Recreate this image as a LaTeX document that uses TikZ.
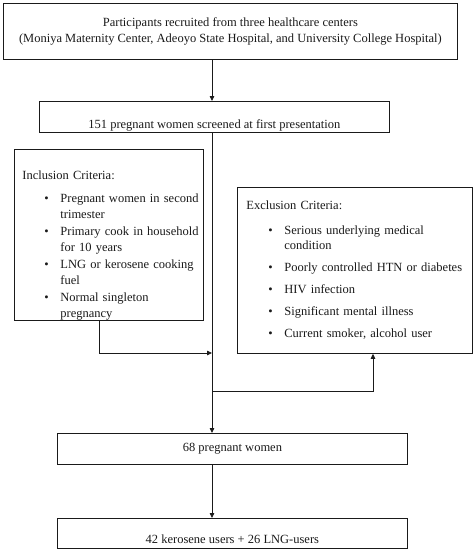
\documentclass[tikz,border=0pt]{standalone}
\usepackage{fontspec}
\setmainfont{Liberation Serif}
\usetikzlibrary{arrows.meta, positioning}
\definecolor{inkgray}{HTML}{1A1A1A}

% one bullet line, and the wrapped rest of it
\newcommand{\critem}[1]{\hspace*{22pt}\makebox[16pt][l]{\textbullet}\mbox{#1}}
\newcommand{\critnext}[1]{\hspace*{38pt}\mbox{#1}}

\begin{document}
\begin{tikzpicture}[
  x=1pt, y=-1pt,
  box/.style={draw=inkgray, line width=0.8pt, anchor=north west, inner sep=0pt, align=center, text=inkgray, font=\fontsize{12.5}{16.5}\selectfont},
  critbox/.style={box, align=left},
  arrow/.style={-{Triangle[length=5pt, width=4.5pt]}, draw=inkgray, line width=0.8pt}
]
  \useasboundingbox (0,0) rectangle (474,550);

  \node[box, minimum width=454pt, minimum height=56pt] (recruit) at (3,3)
    {Participants recruited from three healthcare centers\\(Moniya Maternity Center, Adeoyo State Hospital, and University College Hospital)};
  \node[box, minimum width=350pt, minimum height=31pt, text height=26pt, text depth=3pt] (screen) at (39,101)
    {151 pregnant women screened at first presentation};

  \node[critbox, minimum width=189pt, minimum height=171pt, text width=173pt, inner xsep=8pt] (incl) at (14,149)
    {\rule{0pt}{30pt}Inclusion Criteria:\\[6pt]
     \critem{Pregnant women in second}\\
     \critnext{trimester}\\
     \critem{Primary cook in household}\\
     \critnext{for 10 years}\\
     \critem{LNG or kerosene cooking}\\
     \critnext{fuel}\\
     \critem{Normal singleton}\\
     \critnext{pregnancy}};

  \node[critbox, minimum width=235pt, minimum height=166pt, text width=217pt, inner xsep=9pt, font=\fontsize{12.5}{15}\selectfont] (excl) at (237,187)
    {Exclusion Criteria:\\[10pt]
     \critem{Serious underlying medical}\\
     \critnext{condition}\\[7pt]
     \critem{Poorly controlled HTN or diabetes}\\[7pt]
     \critem{HIV infection}\\[7pt]
     \critem{Significant mental illness}\\[7pt]
     \critem{Current smoker, alcohol user}};

  \node[box, minimum width=350pt, minimum height=31pt] (women) at (57,433) {68 pregnant women};
  \node[box, minimum width=350pt, minimum height=30pt, text height=23pt, text depth=3pt] (groups) at (57,518)
    {42 kerosene users + 26 LNG-users};

  % spine and the two side joins
  \coordinate (spine) at (212,0);
  \coordinate (inleg) at (99,0);
  \coordinate (exleg) at (373,0);
  \coordinate (injoin) at (212,353);
  \coordinate (exjoin) at (212,391);

  \draw[arrow] (recruit.south -| spine) -- (screen.north -| spine);
  \draw[arrow] (screen.south -| spine) -- (women.north -| spine);
  \draw[arrow] (incl.south -| inleg) |- (injoin);
  \draw[arrow] (exjoin) -| (excl.south -| exleg);
  \draw[arrow] (women.south -| spine) -- (groups.north -| spine);
\end{tikzpicture}
\end{document}
